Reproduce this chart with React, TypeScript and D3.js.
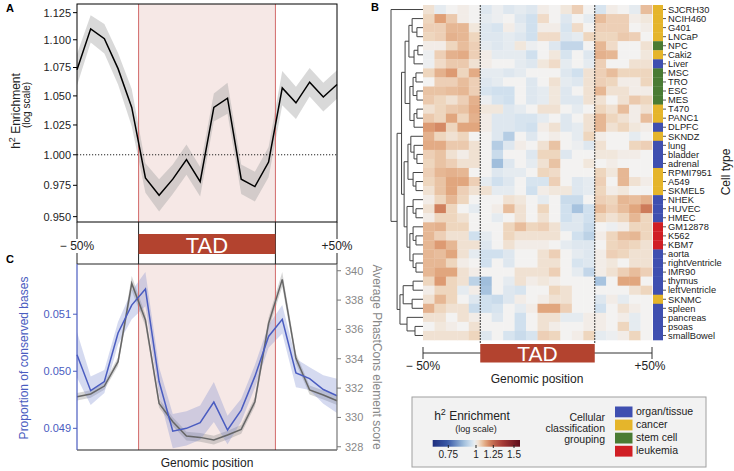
import React from "react";
import * as d3 from "d3";

const FONT = "'Liberation Sans', Arial, Helvetica, sans-serif";

// ---------- Panel A data ----------
const enrichA = [1.073, 1.11, 1.101, 1.074, 1.04, 0.981, 0.967, 0.98, 0.996, 0.978, 1.04, 1.048, 0.98, 0.974, 0.994, 1.057, 1.044, 1.062, 1.049, 1.06];
const enrichASe = [0.014, 0.0125, 0.0135, 0.014, 0.016, 0.012, 0.013, 0.012, 0.0125, 0.012, 0.012, 0.0135, 0.012, 0.012, 0.0125, 0.015, 0.014, 0.0125, 0.0125, 0.0125];
const yTicksA = [0.95, 0.975, 1.0, 1.025, 1.05, 1.075, 1.1, 1.125];

// ---------- Panel C data ----------
const conservedProp = [0.05029, 0.04966, 0.04982, 0.05067, 0.05116, 0.05144, 0.04982, 0.04895, 0.049, 0.0491, 0.04946, 0.04897, 0.04932, 0.04991, 0.05061, 0.05091, 0.04997, 0.04987, 0.04968, 0.04957];
const conservedSe = [0.0004, 0.00025, 0.0002, 0.0002, 0.00025, 0.0003, 0.00025, 0.0003, 0.0003, 0.0003, 0.00035, 0.00025, 0.0002, 0.0002, 0.0002, 0.00025, 0.00025, 0.0002, 0.00025, 0.0003];
const phastScore = [331.41, 331.6, 332.14, 333.8, 339.14, 336.64, 330.96, 329.71, 328.73, 328.64, 328.46, 328.8, 329.19, 331.07, 336.41, 339.41, 334.03, 331.87, 331.53, 331.14];
const phastSe = [0.25, 0.25, 0.25, 0.3, 0.5, 0.4, 0.3, 0.3, 0.3, 0.3, 0.3, 0.3, 0.3, 0.3, 0.4, 0.5, 0.35, 0.3, 0.3, 0.3];
const yTicksCLeft = [0.049, 0.05, 0.051];
const yTicksCRight = [328, 330, 332, 334, 336, 338, 340];

// TAD boundaries in bin units (bins 0-4 upstream, 5-14 TAD, 15-19 downstream)
const tadBounds = [4.5, 14.5];
const binCount = 20;

// ---------- Panel B data ----------
const cellTypes = ["SJCRH30", "NCIH460", "G401", "LNCaP", "NPC", "Caki2", "Liver", "MSC", "TRO", "ESC", "MES", "T470", "PANC1", "DLPFC", "SKNDZ", "lung", "bladder", "adrenal", "RPMI7951", "A549", "SKMEL5", "NHEK", "HUVEC", "HMEC", "GM12878", "K562", "KBM7", "aorta", "rightVentricle", "IMR90", "thymus", "leftVentricle", "SKNMC", "spleen", "pancreas", "psoas", "smallBowel"];
const cellGroups = ["cancer", "cancer", "cancer", "cancer", "stem cell", "cancer", "organ/tissue", "stem cell", "stem cell", "stem cell", "stem cell", "cancer", "cancer", "organ/tissue", "cancer", "organ/tissue", "organ/tissue", "organ/tissue", "cancer", "cancer", "cancer", "organ/tissue", "organ/tissue", "organ/tissue", "leukemia", "leukemia", "leukemia", "organ/tissue", "organ/tissue", "organ/tissue", "organ/tissue", "organ/tissue", "cancer", "organ/tissue", "organ/tissue", "organ/tissue", "organ/tissue"];
const groupNames = ["organ/tissue", "cancer", "stem cell", "leukemia"];
const groupColors = ["#3f4fb0", "#e5b52b", "#4a7b33", "#d01e24"];

const heatValues: number[][] = [
  [1.03, 0.98, 1.0, 1.01, 1.0, 0.97, 0.99, 0.97, 0.98, 0.97, 1.01, 1.0, 1.02, 1.06, 1.0, 0.96, 1.01, 1.0, 0.98, 1.09],
  [1.05, 1.14, 1.07, 1.01, 1.0, 0.98, 0.99, 1.0, 0.97, 0.95, 1.04, 1.0, 0.97, 1.0, 0.98, 1.09, 1.06, 1.06, 1.01, 1.02],
  [1.06, 1.06, 1.1, 1.1, 1.02, 0.97, 0.96, 1.01, 0.98, 0.95, 1.01, 1.01, 0.96, 1.04, 1.0, 1.06, 1.06, 1.06, 1.0, 1.01],
  [1.05, 1.06, 1.11, 1.1, 1.05, 0.97, 0.97, 0.98, 0.97, 0.95, 1.04, 1.04, 0.97, 0.98, 1.05, 1.05, 1.05, 1.07, 1.06, 1.0],
  [1.01, 1.01, 1.05, 1.09, 1.06, 0.98, 0.97, 0.98, 1.02, 0.99, 1.0, 0.97, 0.93, 0.93, 1.0, 1.1, 1.04, 1.0, 1.0, 1.03],
  [0.99, 1.06, 1.11, 1.12, 1.06, 1.01, 0.98, 0.98, 0.98, 0.95, 1.0, 1.02, 0.96, 1.0, 0.97, 1.11, 1.1, 1.0, 1.0, 1.02],
  [0.99, 1.04, 1.07, 1.07, 1.03, 1.01, 1.0, 1.0, 0.98, 0.97, 1.02, 1.04, 0.98, 1.0, 0.98, 1.06, 1.0, 1.0, 1.03, 1.03],
  [1.05, 1.11, 1.15, 1.05, 1.12, 0.98, 0.98, 0.97, 0.98, 1.0, 1.0, 1.0, 0.97, 0.95, 1.03, 1.06, 1.09, 1.05, 1.05, 1.05],
  [1.0, 1.06, 1.06, 1.09, 1.06, 0.97, 0.98, 1.0, 1.0, 0.97, 1.0, 1.03, 0.98, 0.97, 1.03, 1.06, 1.05, 1.01, 1.01, 1.05],
  [1.08, 1.08, 1.09, 1.1, 1.06, 0.96, 0.95, 0.95, 1.0, 0.97, 0.98, 1.02, 0.97, 1.0, 1.03, 1.1, 1.03, 1.03, 1.01, 1.01],
  [1.07, 1.05, 1.03, 1.06, 1.11, 0.99, 0.96, 0.95, 1.0, 0.97, 0.98, 1.02, 0.97, 0.97, 1.03, 1.03, 1.0, 1.03, 1.07, 1.05],
  [1.03, 1.05, 1.07, 1.08, 1.12, 1.02, 1.02, 0.97, 0.98, 1.0, 1.03, 1.03, 1.0, 0.98, 1.0, 1.05, 1.03, 1.09, 1.01, 1.03],
  [1.07, 1.05, 1.13, 1.05, 1.11, 1.01, 0.97, 0.97, 0.96, 0.96, 0.98, 1.0, 0.97, 1.0, 1.03, 1.1, 1.05, 1.03, 1.01, 1.09],
  [1.15, 1.18, 1.05, 1.13, 1.13, 1.01, 0.97, 0.97, 0.96, 0.95, 1.01, 1.03, 0.97, 0.98, 1.03, 1.1, 1.03, 1.05, 1.02, 1.01],
  [1.11, 1.05, 1.03, 1.05, 1.0, 1.0, 0.97, 0.91, 1.0, 0.97, 1.0, 1.01, 1.0, 0.98, 1.05, 1.01, 1.0, 1.0, 0.98, 1.0],
  [1.12, 1.12, 1.07, 1.07, 1.03, 1.0, 0.91, 0.97, 1.01, 1.0, 1.03, 1.08, 1.0, 0.99, 0.97, 1.03, 1.0, 1.0, 1.05, 1.06],
  [1.06, 1.08, 1.03, 1.01, 1.03, 1.0, 0.94, 1.0, 1.0, 0.97, 1.05, 1.05, 0.97, 1.0, 1.0, 1.02, 1.02, 1.01, 1.01, 1.0],
  [1.05, 1.08, 1.06, 1.03, 1.03, 1.0, 0.88, 0.97, 1.0, 0.98, 1.03, 1.08, 1.0, 1.0, 1.02, 1.0, 1.01, 1.0, 1.0, 1.0],
  [1.06, 1.1, 1.11, 1.1, 1.0, 1.0, 0.97, 0.98, 0.98, 1.0, 1.05, 1.04, 1.0, 1.0, 1.0, 1.05, 1.02, 1.1, 1.0, 1.0],
  [1.05, 1.08, 1.13, 1.13, 1.06, 0.98, 0.95, 0.97, 1.0, 0.96, 0.96, 1.06, 1.0, 0.97, 0.98, 1.06, 1.0, 1.1, 1.03, 1.01],
  [1.03, 1.08, 1.13, 1.06, 1.03, 1.03, 0.98, 0.98, 1.0, 0.95, 1.01, 1.02, 1.02, 0.97, 0.98, 1.05, 1.01, 1.02, 1.0, 1.0],
  [1.01, 1.05, 1.1, 1.05, 1.0, 1.0, 1.0, 1.03, 1.02, 1.0, 0.98, 1.0, 0.94, 0.94, 1.0, 1.06, 1.05, 1.1, 1.09, 1.11],
  [1.03, 1.2, 1.05, 1.0, 0.98, 1.0, 1.01, 1.09, 1.03, 1.0, 1.05, 1.0, 0.95, 0.89, 0.95, 1.09, 1.06, 1.09, 1.13, 1.21],
  [1.01, 1.05, 1.05, 1.03, 1.0, 1.0, 0.98, 1.0, 1.03, 1.0, 1.03, 1.0, 0.95, 0.97, 0.95, 1.05, 1.03, 1.05, 1.1, 1.05],
  [1.1, 1.11, 1.05, 1.05, 1.0, 1.0, 1.0, 1.05, 1.09, 1.05, 1.06, 1.03, 0.97, 0.97, 0.94, 1.0, 0.99, 1.01, 1.05, 1.05],
  [1.1, 1.06, 1.03, 1.03, 0.95, 0.98, 1.0, 1.05, 1.03, 1.03, 1.03, 1.03, 1.0, 0.95, 0.92, 1.01, 1.05, 1.09, 1.1, 1.05],
  [1.1, 1.15, 1.1, 1.03, 1.03, 0.97, 1.0, 1.03, 1.01, 1.01, 1.01, 1.0, 0.98, 0.97, 0.97, 1.0, 1.05, 1.06, 1.05, 1.03],
  [1.1, 1.09, 1.13, 1.03, 0.98, 0.95, 0.95, 0.97, 1.0, 1.0, 1.03, 1.06, 1.0, 0.98, 0.97, 1.01, 1.06, 1.05, 1.03, 1.03],
  [1.1, 1.1, 1.05, 1.01, 1.0, 0.95, 1.0, 0.97, 1.0, 1.0, 1.03, 1.03, 1.0, 0.96, 0.97, 1.01, 1.02, 1.0, 1.03, 1.03],
  [1.1, 1.13, 1.13, 1.03, 1.01, 1.0, 1.0, 1.0, 1.03, 1.03, 1.03, 1.06, 1.0, 0.98, 0.93, 1.01, 1.03, 1.06, 1.09, 1.06],
  [1.05, 1.15, 1.05, 1.03, 0.92, 0.88, 1.0, 0.98, 1.03, 1.01, 1.02, 1.01, 1.0, 1.0, 1.0, 0.89, 1.0, 1.13, 1.13, 1.0],
  [1.01, 1.05, 1.05, 0.98, 1.01, 0.89, 1.0, 0.97, 0.96, 1.0, 1.0, 1.05, 1.03, 1.0, 1.0, 1.0, 1.0, 1.0, 1.03, 1.05],
  [1.03, 1.1, 1.05, 1.0, 0.97, 0.95, 0.94, 0.97, 1.01, 1.0, 1.01, 1.03, 1.03, 1.0, 1.0, 0.97, 1.01, 0.98, 1.0, 1.0],
  [1.11, 1.05, 1.03, 1.03, 0.94, 0.95, 0.96, 1.0, 0.98, 1.01, 1.13, 1.13, 1.06, 1.0, 1.0, 0.95, 1.0, 1.03, 1.01, 1.0],
  [1.03, 1.03, 1.0, 1.03, 1.01, 1.0, 0.97, 1.0, 0.95, 1.0, 1.03, 1.03, 0.98, 0.98, 1.01, 1.01, 1.0, 1.01, 0.98, 1.0],
  [1.0, 1.02, 1.01, 1.0, 1.03, 1.0, 1.0, 1.0, 0.95, 1.0, 1.03, 1.01, 1.0, 1.0, 1.01, 1.01, 1.0, 1.05, 0.98, 1.0],
  [1.03, 1.03, 1.03, 1.03, 1.05, 0.97, 1.0, 0.96, 0.94, 0.96, 1.06, 1.05, 1.0, 1.01, 1.05, 0.98, 0.99, 1.01, 1.05, 1.0],
];

// dendrogram: [height, left, right] or leaf name
type DNode = string | [number, DNode, DNode];
const dendrogram: DNode = [1.0,
  "SJCRH30",
  [0.81,
    [0.67,
      [0.56,
        [0.44,
          [0.34, "NCIH460", [0.19, "G401", "LNCaP"]],
          [0.28, [0.16, "NPC", "Caki2"], "Liver"]],
        [0.41,
          [0.31, [0.22, "MSC", "TRO"], [0.19, "ESC", "MES"]],
          [0.28, [0.19, "T470", "PANC1"], "DLPFC"]]],
      [0.59,
        [0.47,
          [0.38, "SKNDZ", [0.28, "lung", [0.19, "bladder", "adrenal"]]],
          [0.31, "RPMI7951", [0.22, "A549", "SKMEL5"]]],
        [0.5,
          [0.31, "NHEK", [0.22, "HUVEC", "HMEC"]],
          [0.41,
            [0.31, "GM12878", [0.22, "K562", "KBM7"]],
            [0.31, "aorta", [0.22, "rightVentricle", "IMR90"]]]]]],
    [0.72,
      [0.62, [0.31, "thymus", "leftVentricle"], [0.34, "SKNMC", "spleen"]],
      [0.5, "pancreas", [0.25, "psoas", "smallBowel"]]]]];

const colorbarTicks = [0.75, 1, 1.25, 1.5];

// colour scale (log enrichment -> colour)
const heatColor = d3
  .scaleLinear<string>()
  .domain([-0.47, -0.29, -0.128, -0.051, 0, 0.045, 0.09, 0.135, 0.185, 0.3, 0.47])
  .range(["#1b2a7a", "#3a5aa8", "#a0bedc", "#d0e0ee", "#f3f2f1", "#efd8c2", "#e7bb98", "#df9d74", "#cf7e5c", "#a83c38", "#5a0818"])
  .interpolate(d3.interpolateRgb)
  .clamp(true);

export default function App() {
  const W = 734, H = 471;
  const bins = enrichA.map((_, i) => i);

  // ----- Panel A -----
  const xPos = d3.scaleLinear().domain([0, binCount - 1]).range([77, 337]);
  const yA = d3.scaleLog().domain([0.9458, 1.1331]).range([222, 4]);
  const lineA = d3.line<number>().x((i) => xPos(i)).y((i) => yA(enrichA[i]));
  const areaA = d3.area<number>().x((i) => xPos(i)).y0((i) => yA(enrichA[i] - enrichASe[i])).y1((i) => yA(enrichA[i] + enrichASe[i]));
  const tadX0 = xPos(tadBounds[0]), tadX1 = xPos(tadBounds[1]);

  // ----- Panel C -----
  const yCL = d3.scaleLinear().domain([0.04862, 0.05188]).range([450, 264]);
  const yCR = d3.scaleLinear().domain([327.78, 340.46]).range([450, 264]);
  const lineBlue = d3.line<number>().x((i) => xPos(i)).y((i) => yCL(conservedProp[i]));
  const areaBlue = d3.area<number>().x((i) => xPos(i)).y0((i) => yCL(conservedProp[i] - conservedSe[i])).y1((i) => yCL(conservedProp[i] + conservedSe[i]));
  const lineGrey = d3.line<number>().x((i) => xPos(i)).y((i) => yCR(phastScore[i]));
  const areaGrey = d3.area<number>().x((i) => xPos(i)).y0((i) => yCR(phastScore[i] - phastSe[i])).y1((i) => yCR(phastScore[i] + phastSe[i]));

  // ----- Panel B -----
  const xH = d3.scaleBand<number>().domain(bins).range([423, 652]);
  const yH = d3.scaleBand<string>().domain(cellTypes).range([5, 340]);
  const rowY = (n: string) => (yH(n) as number) + yH.bandwidth() / 2;
  const hx = d3.scaleLinear().domain([0, 1]).range([423, 391]);
  const segs: string[] = [];
  const walk = (n: DNode): { x: number; y: number } => {
    if (typeof n === "string") return { x: hx(0), y: rowY(n) };
    const [h, a, b] = n;
    const ca = walk(a), cb = walk(b);
    const x = hx(h);
    segs.push(`M${x},${ca.y}V${cb.y}M${x},${ca.y}H${ca.x}M${x},${cb.y}H${cb.x}`);
    return { x, y: (ca.y + cb.y) / 2 };
  };
  walk(dendrogram);
  const tadHX0 = xH(5) as number, tadHX1 = xH(15) as number;
  const groupColor = (g: string) => groupColors[groupNames.indexOf(g)];

  // colorbar: piecewise position scale in log units
  const cbX = d3.scaleLinear()
    .domain([Math.log(0.75), 0, Math.log(1.25), Math.log(1.5)])
    .range([448.3, 476, 493.3, 514]);
  const cbLeft = 432.7, cbRight = 520;
  const cbStops = d3.range(0, 1.0001, 0.04).map((t) => cbLeft + t * (cbRight - cbLeft));

  const pink = "#f6e8e6";
  const tadRed = "#b3432f";
  const tadLine = "#d26b6b";

  return (
    <svg width={W} height={H} style={{ position: "absolute", left: 0, top: 0, background: "#fff" }} fontFamily={FONT}>
      <defs>
        <linearGradient id="cbGrad" x1="0" x2="1" y1="0" y2="0">
          {cbStops.map((x, i) => (
            <stop key={i} offset={(x - cbLeft) / (cbRight - cbLeft)} stopColor={heatColor(cbX.invert(x))} />
          ))}
        </linearGradient>
      </defs>

      {/* ================= Panel A ================= */}
      <text x={6} y={12} fontSize={11} fontWeight="bold">A</text>
      <rect x={tadX0} y={4} width={tadX1 - tadX0} height={218} fill={pink} />
      <path d={areaA(bins) || ""} fill="#a0a0a0" fillOpacity={0.4} />
      <line x1={77} x2={337} y1={yA(1)} y2={yA(1)} stroke="#222" strokeDasharray="1.2,1.8" strokeWidth={1} />
      <line x1={tadX0} x2={tadX0} y1={4} y2={222} stroke={tadLine} />
      <line x1={tadX1} x2={tadX1} y1={4} y2={222} stroke={tadLine} />
      <path d={lineA(bins) || ""} fill="none" stroke="#000" strokeWidth={1.5} />
      <rect x={77} y={4} width={260} height={218} fill="none" stroke="#000" strokeWidth={1} />
      {yTicksA.map((t) => (
        <g key={t}>
          <line x1={73} x2={77} y1={yA(t)} y2={yA(t)} stroke="#000" />
          <text x={71} y={yA(t)} dy="0.35em" textAnchor="end" fontSize={11} fill="#222">{d3.format(".3f")(t)}</text>
        </g>
      ))}
      <text transform="translate(20,111) rotate(-90)" textAnchor="middle" fontSize={12} fill="#222">
        h<tspan dy={-5} fontSize={9}>2</tspan><tspan dy={5}> Enrichment</tspan>
      </text>
      <text transform="translate(30,105) rotate(-90)" textAnchor="middle" fontSize={10} fill="#222">(log scale)</text>

      {/* ===== middle TAD axis ===== */}
      {[77, 337].map((x) => (
        <g key={x}>
          <line x1={x} x2={x} y1={222} y2={239} stroke="#222" />
          <line x1={x} x2={x} y1={253} y2={264} stroke="#222" />
        </g>
      ))}
      <line x1={tadX0} x2={tadX0} y1={222} y2={264} stroke="#222" />
      <line x1={tadX1} x2={tadX1} y1={222} y2={264} stroke="#222" />
      <rect x={tadX0} y={234} width={tadX1 - tadX0} height={20} fill={tadRed} />
      <text x={(tadX0 + tadX1) / 2} y={252.5} textAnchor="middle" fontSize={22} fill="#fff">TAD</text>
      <text x={xPos(0)} y={250} textAnchor="middle" fontSize={12} fill="#222">{"\u2212 50%"}</text>
      <text x={xPos(binCount - 1)} y={250} textAnchor="middle" fontSize={12} fill="#222">+50%</text>

      {/* ================= Panel C ================= */}
      <text x={6} y={263} fontSize={11} fontWeight="bold">C</text>
      <rect x={tadX0} y={264} width={tadX1 - tadX0} height={186} fill={pink} />
      <path d={areaGrey(bins) || ""} fill="#8a8a8a" fillOpacity={0.35} />
      <path d={areaBlue(bins) || ""} fill="#7585cc" fillOpacity={0.3} />
      <line x1={tadX0} x2={tadX0} y1={264} y2={450} stroke={tadLine} />
      <line x1={tadX1} x2={tadX1} y1={264} y2={450} stroke={tadLine} />
      <path d={lineGrey(bins) || ""} fill="none" stroke="#666" strokeWidth={1.5} />
      <path d={lineBlue(bins) || ""} fill="none" stroke="#4a5cc0" strokeWidth={1.5} />
      <line x1={77} x2={337} y1={264} y2={264} stroke="#222" />
      <line x1={77} x2={337} y1={450} y2={450} stroke="#222" />
      <line x1={77} x2={77} y1={264} y2={450} stroke="#4a5cc0" strokeWidth={1.2} />
      <line x1={337} x2={337} y1={264} y2={450} stroke="#777" strokeWidth={1.2} />
      {yTicksCLeft.map((t) => (
        <g key={t}>
          <line x1={73} x2={77} y1={yCL(t)} y2={yCL(t)} stroke="#4a5cc0" />
          <text x={71} y={yCL(t)} dy="0.35em" textAnchor="end" fontSize={11} fill="#4a5cc0">{d3.format(".3f")(t)}</text>
        </g>
      ))}
      {yTicksCRight.map((t) => (
        <g key={t}>
          <line x1={337} x2={341} y1={yCR(t)} y2={yCR(t)} stroke="#777" />
          <text x={345} y={yCR(t)} dy="0.35em" textAnchor="start" fontSize={11} fill="#888">{t}</text>
        </g>
      ))}
      <text transform="translate(28,358) rotate(-90)" textAnchor="middle" fontSize={12} fill="#4a5cc0">Proportion of conserved bases</text>
      <text transform="translate(373,357) rotate(90)" textAnchor="middle" fontSize={12} fill="#888">Average PhastCons element score</text>
      <text x={207} y={467} textAnchor="middle" fontSize={12} fill="#222">Genomic position</text>

      {/* ================= Panel B ================= */}
      <text x={371} y={11} fontSize={11} fontWeight="bold">B</text>
      <path d={segs.join("")} fill="none" stroke="#444" strokeWidth={1} />
      {heatValues.map((row, r) =>
        row.map((v, c) => (
          <rect key={`${r}-${c}`} x={xH(c)} y={yH(cellTypes[r])} width={xH.bandwidth() + 0.3} height={yH.bandwidth() + 0.3} fill={heatColor(Math.log(v))} />
        ))
      )}
      <line x1={tadHX0} x2={tadHX0} y1={5} y2={344} stroke="#333" strokeDasharray="2,1" strokeWidth={1} />
      <line x1={tadHX1} x2={tadHX1} y1={5} y2={344} stroke="#333" strokeDasharray="2,1" strokeWidth={1} />
      {cellTypes.map((n, r) => (
        <g key={n}>
          <rect x={653} y={yH(n)} width={10} height={yH.bandwidth() + 0.3} fill={groupColor(cellGroups[r])} />
          <line x1={663} x2={666} y1={rowY(n)} y2={rowY(n)} stroke="#555" />
          <text x={668} y={rowY(n)} dy="0.35em" fontSize={9.3} fill="#222">{n}</text>
        </g>
      ))}
      <text transform="translate(730,172) rotate(-90)" textAnchor="middle" fontSize={12} fill="#222">Cell type</text>
      {/* B axis */}
      <line x1={423} x2={652} y1={353} y2={353} stroke="#333" />
      <line x1={423} x2={423} y1={347} y2={359} stroke="#333" />
      <line x1={652} x2={652} y1={347} y2={359} stroke="#333" />
      <rect x={tadHX0} y={344} width={tadHX1 - tadHX0} height={18.5} fill={tadRed} />
      <text x={(tadHX0 + tadHX1) / 2} y={360.5} textAnchor="middle" fontSize={21} fill="#fff">TAD</text>
      <text x={423} y={370} textAnchor="middle" fontSize={12} fill="#222">{"\u2212 50%"}</text>
      <text x={650} y={370} textAnchor="middle" fontSize={12} fill="#222">+50%</text>
      <text x={537} y={383} textAnchor="middle" fontSize={12} fill="#222">Genomic position</text>

      {/* ================= Legend ================= */}
      <rect x={412} y={397} width={294} height={70} fill="#f2f2f2" stroke="#a0a0a0" />
      <text x={472} y={420} textAnchor="middle" fontSize={12} fill="#222">
        h<tspan dy={-5} fontSize={9}>2</tspan><tspan dy={5}> Enrichment</tspan>
      </text>
      <text x={476} y={431.5} textAnchor="middle" fontSize={9} fill="#222">(log scale)</text>
      <rect x={cbLeft} y={440} width={cbRight - cbLeft} height={6.7} fill="url(#cbGrad)" />
      {colorbarTicks.map((t) => (
        <g key={t}>
          <line x1={cbX(Math.log(t))} x2={cbX(Math.log(t))} y1={445} y2={448} stroke="#222" />
          <text x={cbX(Math.log(t))} y={458.3} textAnchor="middle" fontSize={10} fill="#222">{t}</text>
        </g>
      ))}
      {["Cellular", "classification", "grouping"].map((s, i) => (
        <text key={s} x={605} y={420.5 + i * 11} textAnchor="end" fontSize={10.5} fill="#222">{s}</text>
      ))}
      {groupNames.map((g, i) => (
        <g key={g}>
          <rect x={615} y={406.5 + i * 13.1} width={17.5} height={10.8} fill={groupColors[i]} />
          <text x={636} y={414.5 + i * 13.1} fontSize={10.5} fill="#222">{g}</text>
        </g>
      ))}
    </svg>
  );
}
